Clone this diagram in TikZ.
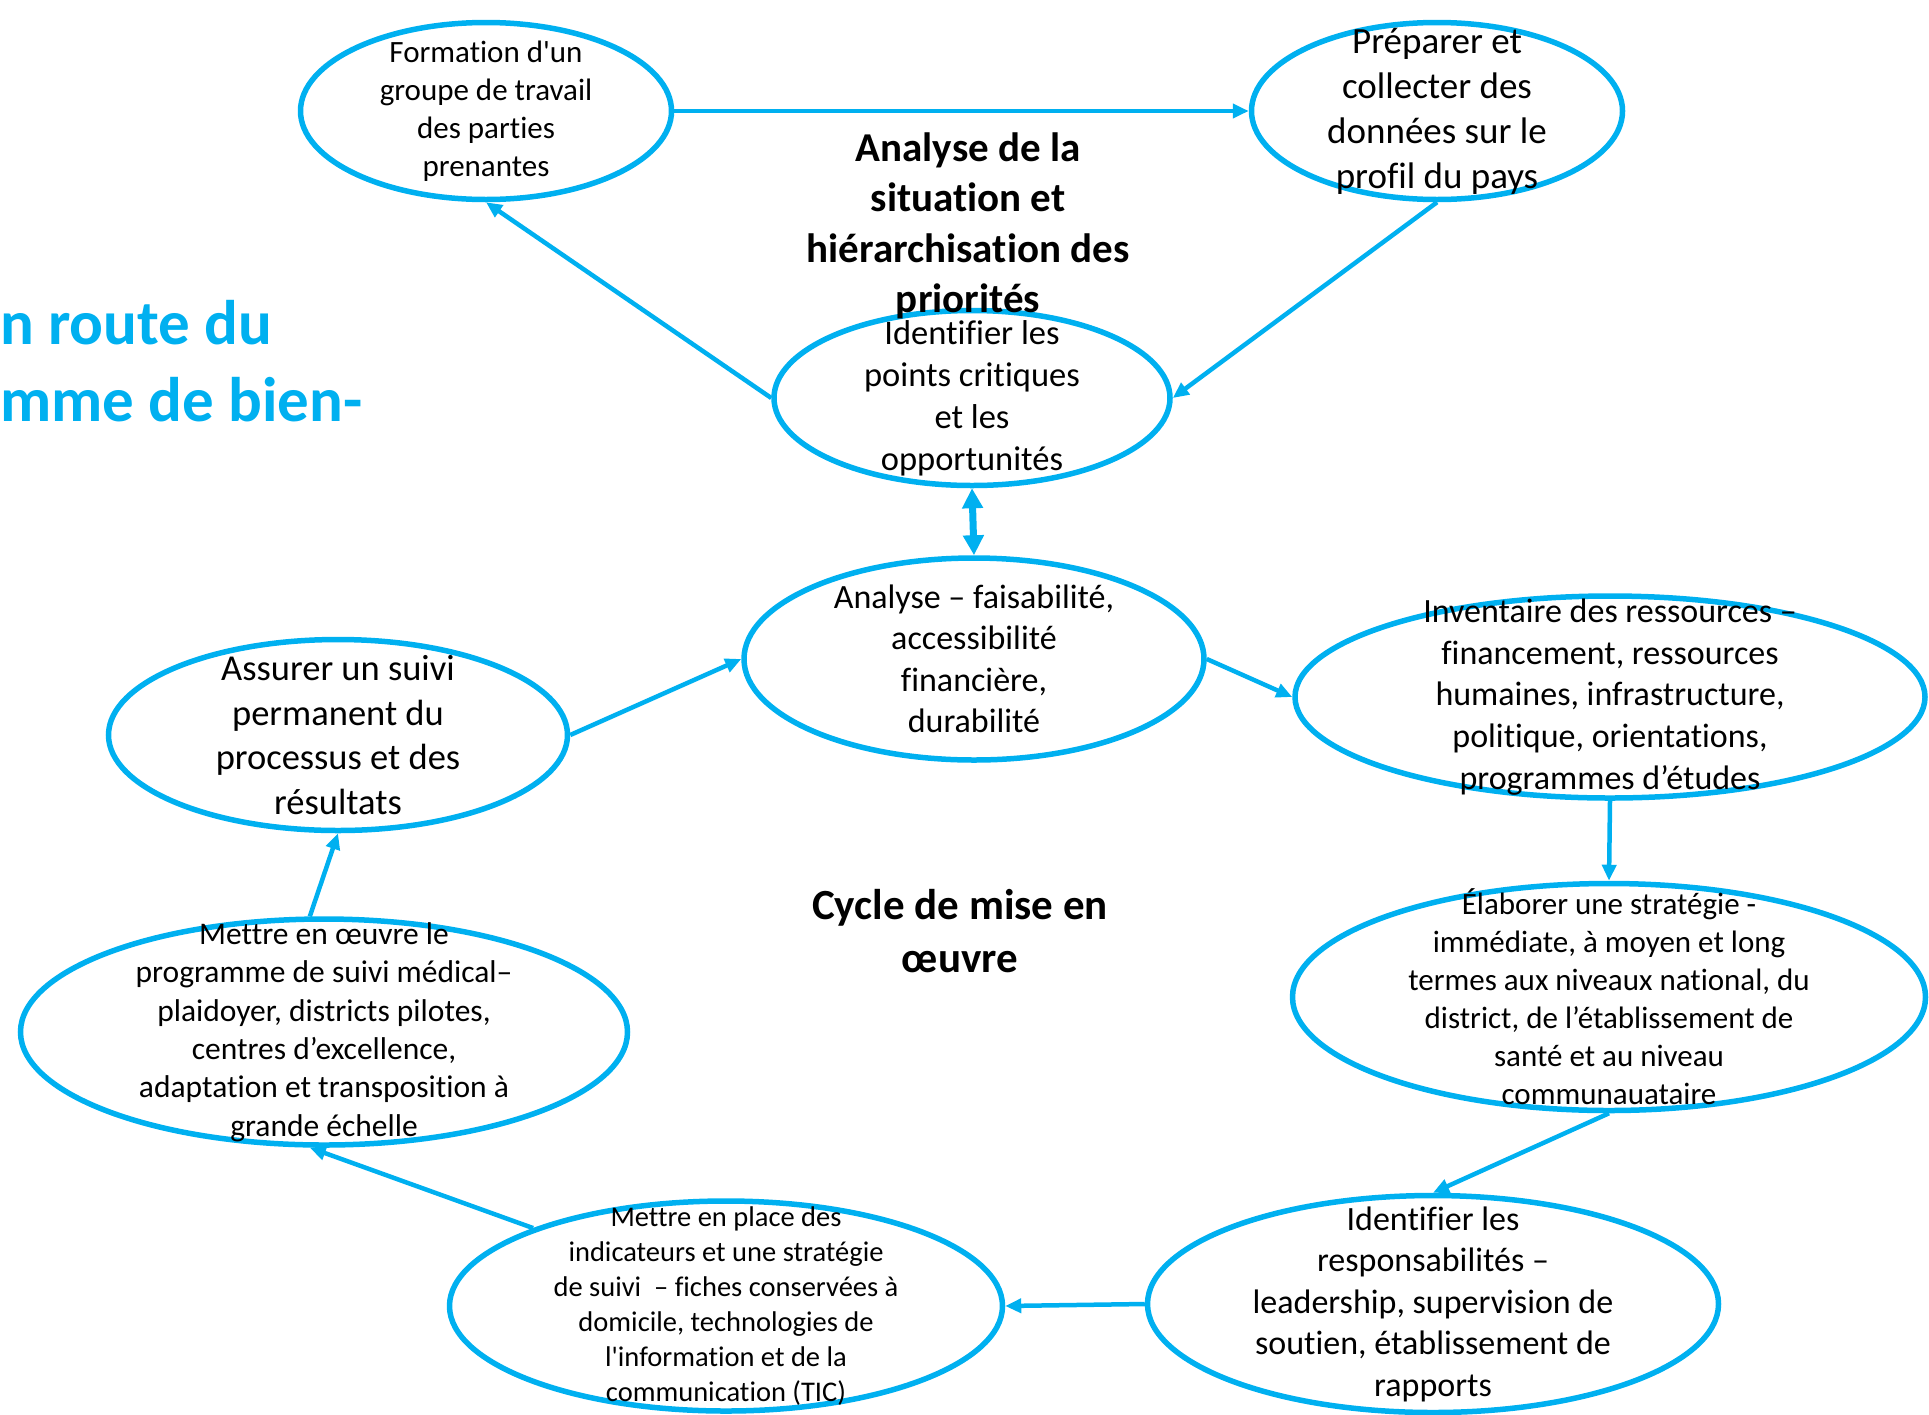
\documentclass[tikz,border=0pt]{standalone}
\usepackage{fontspec}
\setmainfont{Carlito}[Ligatures={TeX,NoCommon}]
\usepackage{tikz}
\usetikzlibrary{positioning,arrows.meta,shapes.geometric}
\usepackage{xcolor}
\definecolor{cycleblue}{HTML}{00B0F0}

\newcommand{\fs}[2]{\fontsize{#1}{#2}\selectfont}

\begin{document}
\begin{tikzpicture}[x=1pt,y=-1pt,>={Triangle[length=16pt,width=14pt]},
  bubble/.style={ellipse,draw=cycleblue,line width=5.5pt,inner sep=0pt},
  txt/.style={align=center,inner sep=0pt},
  link/.style={->,draw=cycleblue,line width=4.5pt}]
\useasboundingbox (0,0) rectangle (1929,1414);

% ellipses
\node[bubble,minimum width=371,minimum height=177] (form) at (486,111) {};
\node[bubble,minimum width=371,minimum height=177] (prep) at (1437,111) {};
\node[bubble,minimum width=396,minimum height=175] (ident) at (972,398) {};
\node[bubble,minimum width=460,minimum height=202] (anal) at (974,659) {};
\node[bubble,minimum width=459,minimum height=191] (assur) at (338,735) {};
\node[bubble,minimum width=630,minimum height=202] (inv) at (1610,697) {};
\node[bubble,minimum width=633,minimum height=227] (elab) at (1609,997) {};
\node[bubble,minimum width=607,minimum height=226] (oeuvre) at (324,1032) {};
\node[bubble,minimum width=571,minimum height=217] (resp) at (1433,1304) {};
\node[bubble,minimum width=553,minimum height=210] (place) at (726,1306) {};

% texts
\node[txt,font=\fs{31}{38}] (form-t) at (form) {Formation d\textquotesingle un\\groupe de travail\\des parties\\prenantes};
\node[txt,font=\fs{37}{45}] (prep-t) at (prep) {Préparer et\\collecter des\\données sur le\\profil du pays};
\node[txt,font=\fs{34.5}{42}] (ident-t) at (ident) {Identifier les\\points critiques\\et les\\opportunités};
\node[txt,font=\fs{34}{41.5}] (anal-t) at (anal) {Analyse – faisabilité,\\accessibilité\\financière,\\durabilité};
\node[txt,font=\fs{36.5}{44.7}] (assur-t) at (assur) {Assurer un suivi\\permanent du\\processus et des\\résultats};
\node[txt,font=\fs{34}{41.8}] (inv-t) at (inv) {Inventaire des ressources –\\financement, ressources\\humaines, infrastructure,\\politique, orientations,\\programmes d’études};
\node[txt,font=\fs{31}{38}] (elab-t) at (elab) {Élaborer une stratégie -\\immédiate, à moyen et long\\termes aux niveaux national, du\\district, de l’établissement de\\santé et au niveau\\communauataire};
\node[txt,font=\fs{31.5}{38.4}] (oeuvre-t) at (oeuvre) {Mettre en œuvre le\\programme de suivi médical–\\plaidoyer, districts pilotes,\\centres d’excellence,\\adaptation et transposition à\\grande échelle};
\node[txt,font=\fs{34}{41.5}] (resp-t) at (resp) {Identifier les\\responsabilités –\\leadership, supervision de\\soutien, établissement de\\rapports};
\node[txt,font=\fs{28.5}{35}] (place-t) at (place) {Mettre en place des\\indicateurs et une stratégie\\de suivi \ – fiches conservées à\\domicile, technologies de\\l\textquotesingle information et de la\\communication (TIC)};

% headings
\node[txt,font=\bfseries\fs{41}{50.4}] (head1) at (968,226) {Analyse de la\\situation et\\hiérarchisation des\\priorités};
\node[txt,font=\bfseries\fs{43}{53}] (head2) at (960,931) {Cycle de mise en\\œuvre};
\node[txt,font=\bfseries\fs{63}{77.5},text=cycleblue,align=left,anchor=west] (title) at (0,361) {n route du\\mme de bien-};

% connectors
\draw[link] (form.east) -- (prep.west);
\draw[link] (prep.south) -- (ident.east);
\draw[link] (ident.west) -- (form.south);
\draw[link,<->,line width=7pt,>={Triangle[length=20pt,width=20pt]}] (ident.south) -- (anal.north);
\draw[link] (assur.east) -- (anal.west);
\draw[link] (anal.east) -- (inv.west);
\draw[link] (inv.south) -- (elab.north);
\draw[link] (elab.south) -- (resp.north);
\draw[link] (resp.west) -- (place.east);
\draw[link] (place.158) -- (oeuvre.263);
\draw[link] (oeuvre.97) -- (assur.south);
\end{tikzpicture}
\end{document}
